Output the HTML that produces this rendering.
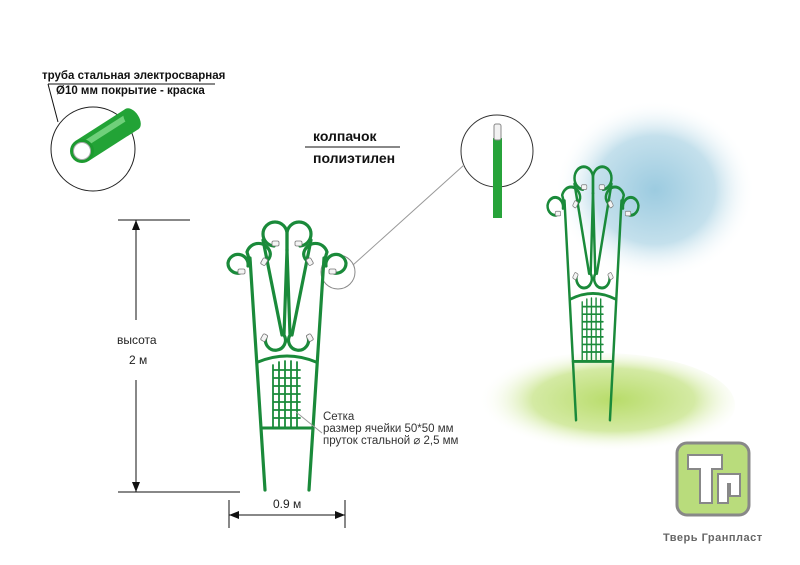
<!DOCTYPE html>
<html><head><meta charset="utf-8"><style>
html,body{margin:0;padding:0;background:#fff}
svg{display:block}
text{font-family:"Liberation Sans","DejaVu Sans",sans-serif}
</style></head><body>
<svg width="800" height="565" viewBox="0 0 800 565" xmlns="http://www.w3.org/2000/svg">
<defs>
<radialGradient id="blue" cx="0.5" cy="0.5" r="0.5">
<stop offset="0" stop-color="#9ccbe0"/><stop offset="0.6" stop-color="#c4e0ec"/><stop offset="1" stop-color="#fff" stop-opacity="0"/>
</radialGradient>
<radialGradient id="green" cx="0.55" cy="0.45" r="0.5">
<stop offset="0" stop-color="#b8dc6a"/><stop offset="0.6" stop-color="#d4eaa4"/><stop offset="1" stop-color="#fff" stop-opacity="0"/>
</radialGradient>
<g id="half" fill="none" stroke="#1a8a3a" stroke-width="3.2" stroke-linecap="round">
<path d="M250 258 L265 490"/>
<!-- loop A -->
<path d="M287 250 L287 234 A12 12 0 0 0 263 234 A12 12 0 0 0 274 246"/>
<!-- loop B -->
<path d="M250 262 L247 252 A12 12 0 0 1 270 252 A8 8 0 0 1 264 262"/>
<!-- loop C -->
<path d="M248 266 A10 10 0 0 0 228 263 A10 10 0 0 0 240 273"/>
<!-- diagonals and S -->
<path d="M263 240 L282 335"/>
<path d="M287 250 L284 335 A10 10 0 1 1 266 337"/>
<g fill="#f4f4f4" stroke="#777" stroke-width="0.8">
<rect x="272" y="241" width="7" height="5" rx="1.5"/>
<rect x="262" y="258" width="5" height="7" rx="1.5" transform="rotate(30 264 261)"/>
<rect x="238" y="269" width="7" height="5" rx="1.5"/>
<rect x="262" y="334" width="5" height="7" rx="1.5" transform="rotate(30 264 337)"/>
</g>
</g>
<g id="fence">
<use href="#half"/>
<use href="#half" transform="translate(574 0) scale(-1 1)"/>
<g fill="none" stroke="#1a8a3a" stroke-width="3" stroke-linecap="round">
<path d="M258 362 Q287 350 316 362 M261 428 L313 428"/>
<path stroke-width="1.8" d="M273 365 V428 M279 362 V428 M285 361 V428 M291 361 V428 M297 362 V428 M273 370 H300 M273 378 H300 M273 386 H300 M273 394 H300 M273 402 H300 M273 410 H300 M273 418 H300"/>
</g>
</g>
</defs>
<ellipse cx="655" cy="190" rx="100" ry="90" fill="url(#blue)"/>
<ellipse cx="600" cy="405" rx="135" ry="52" fill="url(#green)"/>
<!-- tube -->
<text x="42" y="79" font-size="11.5" font-weight="bold" fill="#111">труба  стальная электросварная</text>
<text x="56" y="94" font-size="11.5" font-weight="bold" fill="#111">Ø10 мм покрытие - краска</text>
<line x1="48" y1="84" x2="215" y2="84" stroke="#111" stroke-width="1"/>
<line x1="48" y1="84" x2="58" y2="122" stroke="#111" stroke-width="1"/>
<circle cx="93" cy="149" r="42" fill="none" stroke="#222" stroke-width="1"/>
<line x1="82" y1="151" x2="132" y2="119" stroke="#22a336" stroke-width="24"/>
<line x1="80" y1="147" x2="130" y2="115" stroke="#6fd07a" stroke-width="6"/>
<ellipse cx="132" cy="119" rx="7" ry="12" transform="rotate(-33 132 119)" fill="#22a336"/>
<circle cx="82" cy="151" r="12" fill="#1d9a30"/>
<circle cx="82" cy="151" r="8.5" fill="#fff" stroke="#aaa"/>
<!-- cap -->
<text x="313" y="141" font-size="14" font-weight="bold" fill="#111">колпачок</text>
<text x="313" y="163" font-size="14" font-weight="bold" fill="#111">полиэтилен</text>
<line x1="305" y1="147" x2="400" y2="147" stroke="#111" stroke-width="1"/>
<circle cx="497" cy="151" r="36" fill="none" stroke="#333" stroke-width="1"/>
<rect x="493" y="138" width="9" height="80" fill="#27a33a"/>
<rect x="494" y="124" width="7" height="16" rx="2" fill="#f2f2f2" stroke="#888"/>
<line x1="353" y1="265" x2="464" y2="165" stroke="#999" stroke-width="1"/>
<circle cx="338" cy="272" r="17" fill="none" stroke="#888" stroke-width="1"/>
<use href="#fence"/>
<use href="#fence" transform="translate(372 -43) scale(0.77 0.945)"/>
<!-- dims -->
<g stroke="#111" stroke-width="1" fill="none">
<line x1="118" y1="220" x2="190" y2="220"/><line x1="118" y1="492" x2="240" y2="492"/>
<line x1="136" y1="220" x2="136" y2="320"/><line x1="136" y1="380" x2="136" y2="492"/>
<line x1="229" y1="500" x2="229" y2="528"/><line x1="345" y1="500" x2="345" y2="528"/>
<line x1="229" y1="515" x2="345" y2="515"/>
<line x1="296" y1="412" x2="322" y2="433" stroke="#999"/>
</g>
<path d="M136 220 l-4 10 h8z M136 492 l-4 -10 h8z M229 515 l10 -4 v8z M345 515 l-10 -4 v8z" fill="#111"/>
<text x="117" y="344" font-size="12" fill="#222">высота</text>
<text x="129" y="364" font-size="12" fill="#222">2 м</text>
<text x="273" y="508" font-size="12" fill="#222">0.9 м</text>
<text x="323" y="420" font-size="11.5" fill="#333">Сетка</text>
<text x="323" y="432" font-size="11.5" fill="#333">размер ячейки 50*50 мм</text>
<text x="323" y="444" font-size="11.5" fill="#333">пруток стальной  ⌀ 2,5 мм</text>
<!-- logo -->
<rect x="677" y="443" width="72" height="72" rx="10" fill="#b9dc7c" stroke="#888" stroke-width="3"/>
<path d="M688 455 H722 V469 H712 V503 H700 V469 H688 Z" fill="#fff" stroke="#888" stroke-width="2"/>
<path d="M718 474 H740 V496 H730 V484 H728 V503 H718 Z" fill="#fff" stroke="#888" stroke-width="2"/>
<text x="663" y="541" font-size="11" font-weight="bold" fill="#666" letter-spacing="0.5">Тверь Гранпласт</text>
</svg>
</body></html>
